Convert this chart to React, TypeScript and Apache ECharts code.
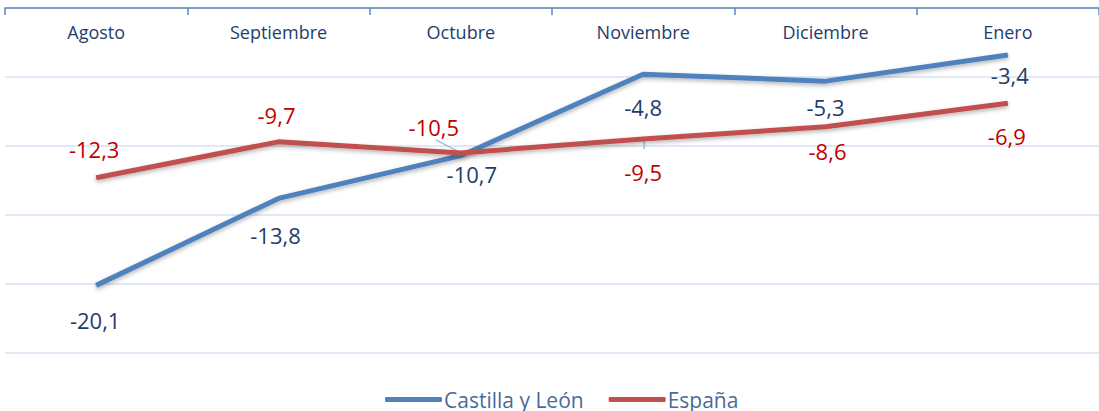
import React, { useEffect, useRef } from "react";
import * as echarts from "echarts";

const categories = ["Agosto", "Septiembre", "Octubre", "Noviembre", "Diciembre", "Enero"];
const castillaValues = [-20.1, -13.8, -10.7, -4.8, -5.3, -3.4];
const espanaValues = [-12.3, -9.7, -10.5, -9.5, -8.6, -6.9];
// label offsets (px) from each point, as placed in the reference
const castillaLabelOffset = [[-1, 35], [-3, 37], [11, 18], [0, 33], [0, 26], [2, 20]];
const espanaLabelOffset = [[-2, -29], [-2, -27], [-27, -26], [0, 33], [2, 24], [-1, 33]];

const FONT = "'Open Sans', 'Noto Sans', sans-serif";

export default function App() {
  const ref = useRef<HTMLDivElement>(null);
  useEffect(() => {
    const chart = echarts.init(ref.current!, null, { renderer: "svg" });
    const fmt = (p: any) => String(p.value).replace(".", ",");
    chart.setOption({
      animation: false,
      textStyle: { fontFamily: FONT },
      grid: { left: 5, right: -10, top: 8, bottom: 58, containLabel: false },
      legend: {
        top: 384,
        left: 380,
        itemWidth: 57,
        itemHeight: 5,
        itemGap: 25,
        icon: "roundRect",
        textStyle: { fontSize: 21, color: "#4C6A9A", fontFamily: FONT, padding: [0, 0, 0, -3] },
        data: ["Castilla y León", "España"],
      },
      xAxis: {
        type: "category",
        position: "top",
        data: categories,
        boundaryGap: true,
        axisLine: { show: true, lineStyle: { color: "#5B86BF", width: 1.5 } },
        axisTick: { show: true, inside: true, length: 7, lineStyle: { color: "#5B86BF", width: 1.5 } },
        axisLabel: { inside: true, margin: 15, fontSize: 18, color: "#1F3D6B", fontFamily: FONT },
        splitLine: { show: false },
      },
      yAxis: {
        type: "value",
        min: -25,
        max: 0,
        interval: 5,
        axisLine: { show: false },
        axisTick: { show: false },
        axisLabel: { show: false },
        splitLine: { show: true, lineStyle: { color: "#D6E2F2", width: 1.5 } },
      },
      series: [
        {
          name: "Castilla y León",
          type: "line",
          data: castillaValues.map((v, i) => ({
            value: v,
            label: { position: "inside", offset: castillaLabelOffset[i] },
          })),
          symbol: "circle",
          symbolSize: 1,
          showSymbol: true,
          lineStyle: { color: "#4F81BD", width: 5, shadowColor: "rgba(0,0,0,0.3)", shadowBlur: 4, shadowOffsetY: 2 },
          itemStyle: { color: "#4F81BD" },
          label: { show: true, formatter: fmt, fontSize: 22, color: "#1F3D6B", fontFamily: FONT },
          z: 3,
        },
        {
          name: "España",
          type: "line",
          data: espanaValues.map((v, i) => ({
            value: v,
            label: { position: "inside", offset: espanaLabelOffset[i] },
          })),
          symbol: "circle",
          symbolSize: 1,
          showSymbol: true,
          lineStyle: { color: "#C0504D", width: 5, shadowColor: "rgba(0,0,0,0.3)", shadowBlur: 4, shadowOffsetY: 2 },
          itemStyle: { color: "#C0504D" },
          label: { show: true, formatter: fmt, fontSize: 22, color: "#C00000", fontFamily: FONT },
          z: 4,
        },
      ],
    });
    // leader lines of the moved labels, anchored at the data points through the chart's scales
    const p1 = chart.convertToPixel({ gridIndex: 0 }, [2, espanaValues[2]]) as number[];
    const p2 = chart.convertToPixel({ gridIndex: 0 }, [3, espanaValues[3]]) as number[];
    chart.setOption({
      graphic: [
        {
          type: "line",
          z: 2,
          shape: { x1: p1[0], y1: p1[1], x2: p1[0] - 25, y2: p1[1] - 13 },
          style: { stroke: "#9FBDE3", lineWidth: 1.5 },
        },
        {
          type: "line",
          z: 2,
          shape: { x1: p2[0] + 1, y1: p2[1], x2: p2[0] + 1, y2: p2[1] + 10 },
          style: { stroke: "#9FBDE3", lineWidth: 1.5 },
        },
      ],
    });
    return () => chart.dispose();
  }, []);
  return <div ref={ref} style={{ width: 1099, height: 411, position: "absolute", left: 0, top: 0 }} />;
}
